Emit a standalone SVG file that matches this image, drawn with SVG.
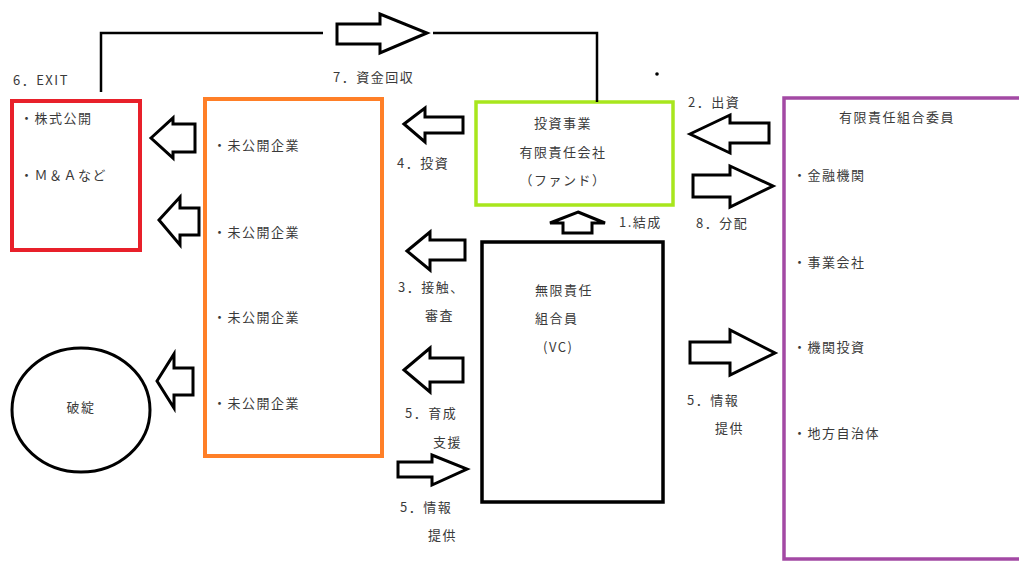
<svg xmlns="http://www.w3.org/2000/svg" width="1019" height="561" viewBox="0 0 1019 561">
<style>
text{font-family:"Noto Sans CJK JP","Liberation Sans",sans-serif;font-size:13px;fill:#3a3a3a;letter-spacing:1.5px}
.c{text-anchor:middle}
.arr{fill:#fff;stroke:#000;stroke-width:3;stroke-linejoin:miter}
.ln{fill:none;stroke:#000;stroke-width:2.5}
</style>
<rect width="1019" height="561" fill="#fff"/>
<g id="exit">
<rect x="12" y="101" width="128" height="149" fill="none" stroke="#e8202a" stroke-width="4"/>
<text x="20" y="123">・株式公開</text>
<text x="20" y="180" letter-spacing="0">・Ｍ＆Ａなど</text>
</g>
<g id="companies">
<rect x="205" y="99" width="177" height="357" fill="none" stroke="#ff7f27" stroke-width="4"/>
<text x="213" y="150">・未公開企業</text>
<text x="213" y="237">・未公開企業</text>
<text x="213" y="322">・未公開企業</text>
<text x="213" y="408">・未公開企業</text>
</g>
<g id="fund">
<rect x="476" y="102" width="197" height="103" fill="none" stroke="#a8e61d" stroke-width="3.5"/>
<text class="c" x="563" y="128">投資事業</text>
<text class="c" x="563" y="157">有限責任会社</text>
<text class="c" x="563" y="185">（ファンド）</text>
</g>
<g id="vc">
<rect x="482" y="242" width="181" height="260" fill="none" stroke="#000" stroke-width="3.5"/>
<text x="535" y="295">無限責任</text>
<text x="535" y="323">組合員</text>
<text x="543" y="352">(VC)</text>
</g>
<g id="lp">
<rect x="784" y="98" width="245" height="461" fill="none" stroke="#a349a4" stroke-width="3.5"/>
<text class="c" x="897" y="122">有限責任組合委員</text>
<text x="793" y="180">・金融機関</text>
<text x="793" y="267">・事業会社</text>
<text x="793" y="352">・機関投資</text>
<text x="793" y="438">・地方自治体</text>
</g>
<g id="bankruptcy">
<ellipse cx="81" cy="410" rx="69" ry="62" fill="none" stroke="#000" stroke-width="3"/>
<text class="c" x="81" y="412">破綻</text>
</g>
<g id="connectors">
<polyline class="ln" points="101,92 101,33 323,33"/>
<polyline class="ln" points="433,33 597,33 597,102"/>
<polygon class="arr" points="337,24 380,24 380,14 427,33 380,53 380,44 337,44"/>
<polygon class="arr" points="151,138 173,118 173,124 195,124 195,152 173,152 173,158"/>
<polygon class="arr" points="159,220 180,197 180,208 199,208 199,235 180,235 180,245"/>
<polygon class="arr" points="157,381 174,354 174,368 193,368 193,395 174,395 174,408"/>
<polygon class="arr" points="404,124 425,108 425,117 463,117 463,133 425,133 425,142"/>
<polygon class="arr" points="407,251 430,232 430,240 465,240 465,260 430,260 430,270"/>
<polygon class="arr" points="404,370 430,348 430,358 463,358 463,382 430,382 430,392"/>
<polygon class="arr" points="398,462 432,462 432,455 467,469 432,485 432,477 398,477"/>
<polygon class="arr" points="690,342 730,342 730,330 775,353 730,375 730,363 690,363"/>
<polygon class="arr" points="690,134 730,115 730,123 769,123 769,143 730,143 730,153"/>
<polygon class="arr" points="693,175 730,175 730,166 773,186 730,207 730,197 693,197"/>
<polygon class="arr" points="578,212 605,223 592,223 592,233 563,233 563,223 550,223"/>
<circle cx="657" cy="74" r="1.8" fill="#000"/>
</g>
<g id="labels">
<text x="13" y="85">6．EXIT</text>
<text x="333" y="82">7．資金回収</text>
<text x="397" y="168">4．投資</text>
<text x="688" y="107">2．出資</text>
<text x="619" y="227">1.結成</text>
<text x="696" y="228">8．分配</text>
<text x="398" y="292">3．接触、</text>
<text x="425" y="320">審査</text>
<text x="405" y="418">5．育成</text>
<text x="433" y="447">支援</text>
<text x="400" y="512">5．情報</text>
<text x="428" y="540">提供</text>
<text x="687" y="405">5．情報</text>
<text x="715" y="433">提供</text>
</g>
</svg>
